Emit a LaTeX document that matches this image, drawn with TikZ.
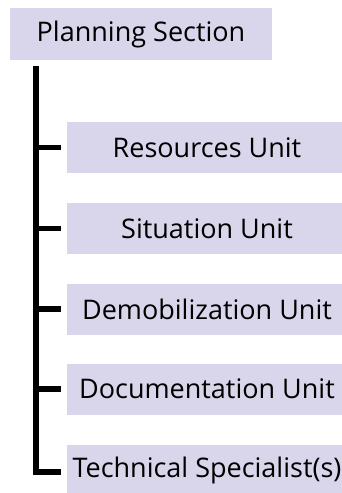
\documentclass[tikz,border=0pt]{standalone}
\usepackage{fontspec}
\setmainfont{Open Sans}
\definecolor{boxfill}{RGB}{217,213,234}
\begin{document}
\begin{tikzpicture}[x=1pt,y=-1pt,
  unitbox/.style={fill=boxfill,draw=none,minimum width=280pt,minimum height=51pt,inner sep=0pt,font=\fontsize{27}{30}\selectfont},
  sectbox/.style={fill=boxfill,draw=none,minimum width=262pt,minimum height=52pt,inner sep=0pt,font=\fontsize{27}{30}\selectfont},
  link/.style={line width=5.5pt,draw=black}]
\useasboundingbox (0,0) rectangle (342,493);
\begin{scope}
\clip (0,0) rectangle (342,493);
\node[sectbox] (ps) at (141,34) {Planning Section};
\node[unitbox] (r1) at (207,147.5) {Resources Unit};
\node[unitbox] (r2) at (207,228.5) {Situation Unit};
\node[unitbox] (r3) at (207,309) {Demobilization Unit};
\node[unitbox] (r4) at (207,389) {Documentation Unit};
\node[unitbox] (r5) at (207,470) {Technical Specialist(s)};
\end{scope}
\coordinate (spine) at (36,66);
\draw[link,line cap=butt] (spine) |- ([xshift=-6pt,yshift=-2pt]r5.west);
\foreach \n in {r1,r2,r3,r4}
  \draw[link] (spine |- \n.west) -- ([xshift=-6pt]\n.west);
\end{tikzpicture}
\end{document}
